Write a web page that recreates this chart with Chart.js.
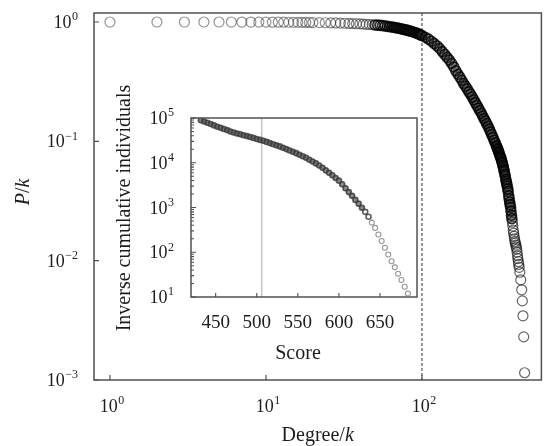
<!DOCTYPE html>
<html><head><meta charset="utf-8">
<script src="https://cdn.jsdelivr.net/npm/chart.js@4"></script>
<style>
html,body{margin:0;padding:0;background:#fff;}
#wrap{position:relative;width:548px;height:446px;background:#fff;}
canvas{position:absolute;left:0;top:0;}
</style></head><body>
<div id="wrap"><canvas id="main" width="548" height="446"></canvas><canvas id="inset" width="548" height="446"></canvas></div>
<script>
// ---- main chart data: P(k) vs degree k ----
const degreeK = [1,2,3,4,5,6,7,8,9,10,11,12,13,14,15,16,17,18,19,20,
  22,24,26,28,30,32,34,36,38,40,42,44,46,48,50,
  52,54,56,58,60,62,64,66,68,70,72,74,76,78,80,82,84,86,88,90,92,94,96,98,100,
  105,110,115,120,125,130,135,140,145,150,155,160,165,170,175,180,185,190,195,200,
  205,210,215,220,225,230,235,240,245,250,255,260,265,270,275,280,285,290,295,300,
  302,305,307,310,312,315,317,320,322,325,327,330,332,335,337,340,342,345,347,350,
  352,355,357,360,362,365,367,370,372,375,377,380,382,385,387,390,392,395,397,400,
  402,405,407,410,412,415,417,420,
  424,430,436,440,444,449,455];
const probPk = [1,1,1,1,1,1,0.999,0.999,0.998,0.998,0.997,0.997,0.996,0.995,0.995,0.994,0.993,0.992,0.991,0.99,
  0.988,0.986,0.984,0.982,0.979,0.976,0.973,0.970,0.967,0.964,0.960,0.957,0.953,0.949,0.945,
  0.942,0.938,0.932,0.926,0.92,0.914,0.908,0.902,0.895,0.889,0.882,0.875,0.868,0.862,0.855,0.848,0.84,0.833,0.825,0.817,0.808,0.799,0.79,0.78,0.77,
  0.745,0.72,0.69,0.66,0.63,0.60,0.565,0.535,0.505,0.48,0.45,0.42,0.39,0.365,0.345,0.325,0.305,0.29,0.275,0.26,
  0.248,0.235,0.223,0.211,0.2,0.19,0.181,0.172,0.163,0.155,0.148,0.141,0.134,0.127,0.12,0.114,0.108,0.102,0.097,0.092,
  0.09,0.087,0.085,0.082,0.08,0.077,0.075,0.073,0.071,0.068,0.066,0.063,0.061,0.058,0.056,0.053,0.051,0.048,0.046,0.044,
  0.042,0.04,0.038,0.035,0.033,0.031,0.0295,0.028,0.026,0.024,0.0225,0.021,0.0195,0.018,0.017,0.016,0.0152,0.0145,0.014,0.0135,
  0.013,0.0125,0.0118,0.011,0.0104,0.0098,0.0093,0.0088,
  0.008,0.0069,0.0057,0.0046,0.00345,0.0023,0.00115];
const mainXTicks = [1,10,100];
const mainXExp = ['0','1','2'];
const mainYTicks = [1,0.1,0.01,0.001];
const mainYExp = ['0','\u22121','\u22122','\u22123'];
const degreeCut = 100;

// ---- inset data: inverse cumulative individuals vs score ----
const score = [432,436,440,444,448,452,456,460,464,468,472,476,480,484,488,492,496,500,504,508,
  512,516,520,524,528,532,536,540,544,548,552,556,560,564,568,572,576,580,584,588,
  592,596,600,604,608,612,616,620,624,628,632,636,640,644,648,652,656,660,664,668,672,676,680,684];
const invCum = [89100,83200,78500,73300,68400,63800,60300,56900,53700,50100,47300,45200,43200,41200,39400,37600,35900,33900,32400,30900,
  29200,27500,26000,24500,23200,21600,20200,18800,17600,16400,15100,14000,12900,11700,10700,9670,8710,7760,6760,5960,
  5250,4570,3980,3310,2690,2210,1820,1480,1220,990,800,620,460,350,250,178,126,89,63,46,33,24,17,12];
const insetXTicks = [450,500,550,600,650];
const insetYTicks = [10,100,1000,10000,100000];
const insetYExp = ['1','2','3','4','5'];
const scoreCut = 506;

const SERIF = '"Liberation Serif","DejaVu Serif",serif';
const TXT = '#1c1c1c';
const FRAME = '#505050';

function drawPow(ctx, exp, x, y, align, baseSize, expSize) {
  ctx.font = baseSize + 'px ' + SERIF;
  const wb = ctx.measureText('10').width;
  ctx.font = expSize + 'px ' + SERIF;
  const we = ctx.measureText(exp).width;
  const total = wb + we + 0.5;
  let sx = align === 'center' ? x - total / 2 : x - total;
  ctx.textAlign = 'left';
  ctx.textBaseline = 'alphabetic';
  ctx.fillStyle = TXT;
  ctx.font = baseSize + 'px ' + SERIF;
  ctx.fillText('10', sx, y);
  ctx.font = expSize + 'px ' + SERIF;
  ctx.fillText(exp, sx + wb + 0.5, y - baseSize * 0.42);
}

function drawMixed(ctx, parts, cx, cy, size, rotate) {
  ctx.save();
  ctx.translate(cx, cy);
  if (rotate) ctx.rotate(-Math.PI / 2);
  let total = 0;
  const ws = parts.map(p => { ctx.font = (p[1] ? 'italic ' : '') + size + 'px ' + SERIF; const w = ctx.measureText(p[0]).width; total += w; return w; });
  let x = -total / 2;
  ctx.fillStyle = TXT;
  ctx.textBaseline = 'middle';
  ctx.textAlign = 'left';
  parts.forEach((p, i) => { ctx.font = (p[1] ? 'italic ' : '') + size + 'px ' + SERIF; ctx.fillText(p[0], x, 0); x += ws[i]; });
  ctx.restore();
}

const mainPlugin = {
  id: 'mainDeco',
  beforeDatasetsDraw(chart) {
    const {ctx, chartArea: a, scales: {x}} = chart;
    const px = x.getPixelForValue(degreeCut);
    ctx.save();
    ctx.strokeStyle = '#333';
    ctx.lineWidth = 1;
    ctx.setLineDash([3, 2]);
    ctx.beginPath(); ctx.moveTo(px, a.top); ctx.lineTo(px, a.bottom); ctx.stroke();
    ctx.restore();
  },
  afterDraw(chart) {
    const {ctx, chartArea: a, scales: {x, y}} = chart;
    ctx.save();
    ctx.strokeStyle = FRAME;
    ctx.lineWidth = 1.5;
    ctx.strokeRect(a.left, a.top, a.right - a.left, a.bottom - a.top);
    ctx.lineWidth = 1.2;
    ctx.beginPath();
    mainXTicks.forEach(v => { const p = x.getPixelForValue(v); ctx.moveTo(p, a.bottom); ctx.lineTo(p, a.bottom - 5); });
    mainYTicks.forEach(v => { const p = y.getPixelForValue(v); ctx.moveTo(a.left, p); ctx.lineTo(a.left + 5, p); });
    ctx.stroke();
    mainXTicks.forEach((v, i) => drawPow(ctx, mainXExp[i], x.getPixelForValue(v) + 2, a.bottom + 32, 'center', 18, 12));
    mainYTicks.forEach((v, i) => drawPow(ctx, mainYExp[i], a.left - 16, y.getPixelForValue(v) + 6, 'right', 18, 12));
    drawMixed(ctx, [['Degree/', false], ['k', true]], (a.left + a.right) / 2, 436, 20, false);
    drawMixed(ctx, [['P', true], ['/', false], ['k', true]], 24, 192, 20, true);
    ctx.restore();
  }
};

const insetPlugin = {
  id: 'insetDeco',
  beforeDatasetsDraw(chart) {
    const {ctx, chartArea: a, scales: {x}} = chart;
    ctx.save();
    ctx.fillStyle = '#fff';
    ctx.fillRect(a.left, a.top, a.right - a.left, a.bottom - a.top);
    const px = x.getPixelForValue(scoreCut);
    ctx.strokeStyle = '#c4c4c4';
    ctx.lineWidth = 1.5;
    ctx.beginPath(); ctx.moveTo(px, a.top); ctx.lineTo(px, a.bottom); ctx.stroke();
    ctx.restore();
  },
  afterDraw(chart) {
    const {ctx, chartArea: a, scales: {x, y}} = chart;
    ctx.save();
    ctx.strokeStyle = FRAME;
    ctx.lineWidth = 1.5;
    ctx.strokeRect(a.left, a.top, a.right - a.left, a.bottom - a.top);
    ctx.lineWidth = 1.1;
    ctx.beginPath();
    insetXTicks.forEach(v => { const p = x.getPixelForValue(v); ctx.moveTo(p, a.bottom); ctx.lineTo(p, a.bottom - 4); });
    insetYTicks.forEach((v, i) => {
      const p = y.getPixelForValue(v); ctx.moveTo(a.left, p); ctx.lineTo(a.left + 5, p);
      if (i < insetYTicks.length - 1) {
        for (let m = 2; m <= 9; m++) { const q = y.getPixelForValue(v * m); ctx.moveTo(a.left, q); ctx.lineTo(a.left + 3, q); }
      }
    });
    ctx.stroke();
    ctx.fillStyle = TXT;
    ctx.font = '19px ' + SERIF;
    ctx.textAlign = 'center';
    ctx.textBaseline = 'alphabetic';
    insetXTicks.forEach(v => ctx.fillText(String(v), x.getPixelForValue(v), a.bottom + 31));
    insetYTicks.forEach((v, i) => drawPow(ctx, insetYExp[i], a.left - 17, y.getPixelForValue(v) + 6, 'right', 18, 12));
    drawMixed(ctx, [['Score', false]], 298, 354, 20, false);
    drawMixed(ctx, [['Inverse cumulative individuals', false]], 125, 208, 20, true);
    ctx.restore();
  }
};

function mainColor(c) {
  const k = c.raw ? c.raw.x : 1;
  if (k < 25) return 'rgba(40,40,40,0.5)';
  if (k < 50) return 'rgba(30,30,30,0.55)';
  if (k < 380) return 'rgba(0,0,0,0.8)';
  return 'rgba(20,20,20,0.65)';
}
function mainFill(c) {
  const k = c.raw ? c.raw.x : 1;
  return (k >= 60 && k < 380) ? 'rgba(30,30,30,0.35)' : 'rgba(0,0,0,0)';
}
function insetColor(c) {
  const s = c.raw ? c.raw.x : 0;
  return s < 640 ? 'rgba(55,55,55,0.8)' : 'rgba(80,80,80,0.6)';
}
function insetFill(c) {
  const s = c.raw ? c.raw.x : 0;
  return s < 632 ? 'rgba(90,90,90,0.7)' : 'rgba(0,0,0,0)';
}

new Chart(document.getElementById('main'), {
  type: 'scatter',
  data: { datasets: [{ data: degreeK.map((k, i) => ({x: k, y: probPk[i]})),
    pointRadius: 5, pointBorderWidth: c => (c.raw && c.raw.x >= 50 && c.raw.x < 380) ? 1.6 : 1.2,
    pointBorderColor: mainColor, pointBackgroundColor: mainFill, showLine: false }] },
  options: {
    responsive: false, animation: false, events: [],
    layout: { padding: { left: 0, top: 13, right: 1, bottom: 0 } },
    plugins: { legend: { display: false }, tooltip: { enabled: false } },
    scales: {
      x: { type: 'logarithmic', min: 0.79, max: 583, ticks: { display: false }, grid: { display: false }, border: { display: false },
        afterFit: s => { s.height = 66; } },
      y: { type: 'logarithmic', min: 0.001, max: 1.19, ticks: { display: false }, grid: { display: false }, border: { display: false },
        afterFit: s => { s.width = 94; } }
    }
  },
  plugins: [mainPlugin]
});

new Chart(document.getElementById('inset'), {
  type: 'scatter',
  data: { datasets: [{ data: score.map((s, i) => ({x: s, y: invCum[i]})),
    pointRadius: 2.5, pointBorderWidth: c => (c.raw && c.raw.x < 640) ? 1.6 : 1.1,
    pointBorderColor: insetColor, pointBackgroundColor: insetFill, showLine: false }] },
  options: {
    responsive: false, animation: false, events: [],
    layout: { padding: { left: 0, top: 118, right: 131, bottom: 0 } },
    plugins: { legend: { display: false }, tooltip: { enabled: false } },
    scales: {
      x: { type: 'linear', min: 420, max: 695, ticks: { display: false }, grid: { display: false }, border: { display: false },
        afterFit: s => { s.height = 149; } },
      y: { type: 'logarithmic', min: 10, max: 100000, ticks: { display: false }, grid: { display: false }, border: { display: false },
        afterFit: s => { s.width = 191; } }
    }
  },
  plugins: [insetPlugin]
});
</script>
</body></html>
